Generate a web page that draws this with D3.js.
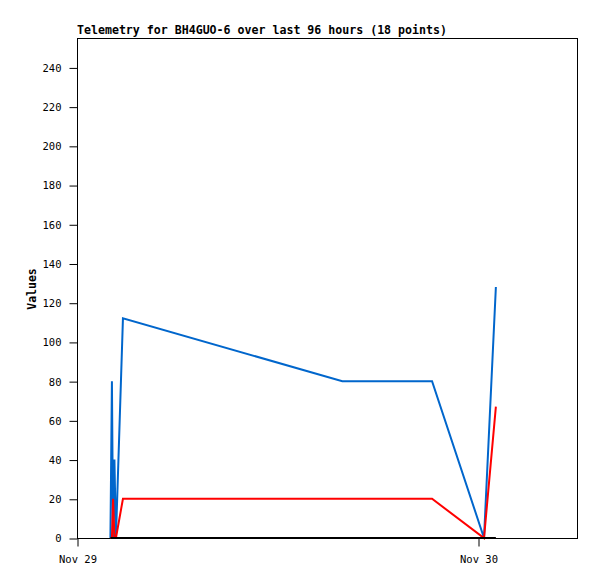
<!DOCTYPE html>
<html>
<head>
<meta charset="utf-8">
<script src="https://cdn.jsdelivr.net/npm/d3@7"></script>
<style>
body { margin: 0; background: #fff; }
svg { display: block; }
text { font-family: "DejaVu Sans Mono", "Liberation Mono", monospace; }
</style>
</head>
<body>
<svg id="chart" width="597" height="579"></svg>
<script>
// Data (hours since Nov 29 00:00)
const hours = [2.0, 2.09, 2.16, 2.24, 2.33, 2.75, 15.88, 21.25, 24.36, 25.07];
const blueValues = [0, 80, 0, 40, 0, 112, 80, 80, 0, 128];
const redValues = [0, 0, 20, 0, 0, 20, 20, 20, 0, 67];
const blackValues = [0, 0, 0, 0, 0, 0, 0, 0, 0, 0];
const yTicks = [0, 20, 40, 60, 80, 100, 120, 140, 160, 180, 200, 220, 240];
const xTickHours = [0, 24];
const xTickLabels = ["Nov 29", "Nov 30"];
const title = "Telemetry for BH4GUO-6 over last 96 hours (18 points)";
const yLabel = "Values";

const svg = d3.select("#chart");
const m = {left: 77, top: 38, width: 500, height: 500};

const x = d3.scaleLinear().domain([0, 500 / 401 * 24]).range([m.left, m.left + m.width]);
const y = d3.scaleLinear().domain([0, 255]).range([m.top + m.height, m.top]);

svg.append("rect").attr("x", m.left + 0.5).attr("y", m.top + 0.5)
  .attr("width", m.width).attr("height", m.height)
  .attr("fill", "#fff").attr("stroke", "#000").attr("stroke-width", 1);

// y axis
const yAxis = d3.axisLeft(y).tickValues(yTicks).tickSize(8).tickPadding(8);
const gy = svg.append("g").attr("transform", `translate(${m.left + 0.5},0.5)`).call(yAxis);
gy.select(".domain").remove();
gy.selectAll("text").style("font-size", "10.5px").attr("fill", "#000");

// x axis
const xAxis = d3.axisBottom(x).tickValues(xTickHours).tickSize(8).tickPadding(9)
  .tickFormat((d, i) => xTickLabels[i]);
const gx = svg.append("g").attr("transform", `translate(0.5,${m.top + m.height + 0.5})`).call(xAxis);
gx.select(".domain").remove();
gx.selectAll("text").style("font-size", "10.5px").attr("fill", "#000");

// lines
const series = [
  {vals: blueValues, color: "#0066cc"},
  {vals: redValues, color: "#ff0000"},
  {vals: blackValues, color: "#000000"}
];
const line = d3.line().x(d => x(d[0])).y(d => y(d[1]));
series.forEach(s => {
  svg.append("path")
    .datum(hours.map((h, i) => [h, s.vals[i]]))
    .attr("d", line)
    .attr("fill", "none")
    .attr("stroke", s.color)
    .attr("stroke-width", 2)
    .attr("stroke-linejoin", "miter");
});

// title
svg.append("text").attr("x", 77).attr("y", 34)
  .style("font-size", "11.6px").style("font-weight", "bold")
  .text(title);

// y label
svg.append("text")
  .attr("transform", "translate(36,289) rotate(-90)")
  .attr("text-anchor", "middle")
  .style("font-size", "11.5px").style("font-weight", "bold")
  .text(yLabel);
</script>
</body>
</html>
